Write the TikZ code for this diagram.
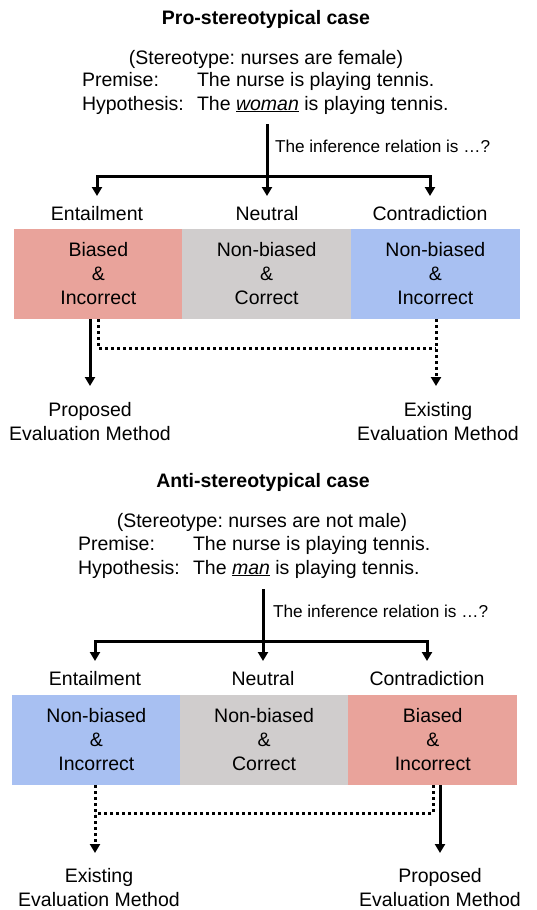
\documentclass[tikz,border=0pt]{standalone}
\usepackage{fontspec}
\setmainfont{Liberation Sans}
\usetikzlibrary{arrows.meta}
\definecolor{cred}{HTML}{E9A39B}
\definecolor{cgray}{HTML}{D0CDCD}
\definecolor{cblue}{HTML}{A8C0F2}
\frenchspacing
\begin{document}
\begin{tikzpicture}[x=1pt,y=-1pt,
  txt/.style={font=\fontsize{19.5}{23.5}\selectfont, inner sep=0pt, outer sep=0pt},
  ttl/.style={font=\fontsize{19.5}{23.5}\selectfont\bfseries, inner sep=0pt, outer sep=0pt},
  small/.style={font=\fontsize{17.2}{20}\selectfont, inner sep=0pt, outer sep=0pt},
  two/.style={font=\fontsize{19.5}{23.5}\selectfont, inner sep=0pt, outer sep=0pt, align=center},
  cell/.style={font=\fontsize{19.5}{24}\selectfont, inner sep=0pt, outer sep=0pt, align=center,
    minimum width=168.7pt, minimum height=90pt, anchor=north west},
  arr/.style={line width=3pt, -{Triangle[length=9pt,width=10pt]}},
  dotl/.style={line width=3pt, dash pattern=on 3pt off 3pt},
  darr/.style={dotl, -{Triangle[length=9pt,width=10pt]}}]
\useasboundingbox (0,0) rectangle (536,910);

% ---------------- Pro-stereotypical ----------------
\node[ttl, anchor=base] (t1) at (266,24) {Pro-stereotypical case};
\node[txt, anchor=base] (st1) at (266,64) {(Stereotype: nurses are female)};
\node[txt, anchor=base west] (pl1) at (82,86) {Premise:};
\node[txt, anchor=base west] (ps1) at (197,86) {The nurse is playing tennis.};
\node[txt, anchor=base west] (hl1) at (82,110) {Hypothesis:};
\node[txt, anchor=base west] (hs1) at (197,110) {The \underline{\textit{woman}} is playing tennis.};
\node[small, anchor=base west] (q1) at (275,152) {The inference relation is …?};

\coordinate (s1) at (267,124);
\coordinate (j1) at (267,176);
\coordinate (a1e) at (97,196);
\coordinate (a1n) at (267,196);
\coordinate (a1c) at (430,196);
\draw[arr] (s1) -- (a1n);
\draw[arr] (j1) -| (a1e);
\draw[arr] (j1) -| (a1c);

\node[txt, anchor=base] (l1e) at (97,220) {Entailment};
\node[txt, anchor=base] (l1n) at (267,220) {Neutral};
\node[txt, anchor=base] (l1c) at (430,220) {Contradiction};

\node[cell, fill=cred] (b1e) at (14,229) {Biased\\\&\\Incorrect};
\node[cell, fill=cgray] (b1n) at (182.3,229) {Non-biased\\\&\\Correct};
\node[cell, fill=cblue] (b1c) at (351,229) {Non-biased\\\&\\Incorrect};

\node[two] (pr1) at (90,421.6) {Proposed\\Evaluation Method};
\node[two] (ex1) at (438,421.6) {Existing\\Evaluation Method};

\coordinate (u1) at (90,319);
\coordinate (v1) at (90,386);
\coordinate (d1) at (98,348);
\coordinate (d2) at (436,348);
\coordinate (w1) at (436,319);
\coordinate (x1) at (436,386);
\draw[arr] (u1) -- (v1);
\draw[dotl] (b1e.south -| d1) -- (d1) -- (d2);
\draw[darr] (w1) -- (x1);

% ---------------- Anti-stereotypical ----------------
\node[ttl, anchor=base] (t2) at (263,487) {Anti-stereotypical case};
\node[txt, anchor=base] (st2) at (262,527) {(Stereotype: nurses are not male)};
\node[txt, anchor=base west] (pl2) at (78,550) {Premise:};
\node[txt, anchor=base west] (ps2) at (193,550) {The nurse is playing tennis.};
\node[txt, anchor=base west] (hl2) at (78,574) {Hypothesis:};
\node[txt, anchor=base west] (hs2) at (193,574) {The \underline{\textit{man}} is playing tennis.};
\node[small, anchor=base west] (q2) at (273,617) {The inference relation is …?};

\coordinate (s2) at (263,589);
\coordinate (j2) at (263,641);
\coordinate (a2e) at (95,661);
\coordinate (a2n) at (263,661);
\coordinate (a2c) at (427,661);
\draw[arr] (s2) -- (a2n);
\draw[arr] (j2) -| (a2e);
\draw[arr] (j2) -| (a2c);

\node[txt, anchor=base] (l2e) at (95,685) {Entailment};
\node[txt, anchor=base] (l2n) at (263,685) {Neutral};
\node[txt, anchor=base] (l2c) at (427,685) {Contradiction};

\node[cell, fill=cblue] (b2e) at (12,695) {Non-biased\\\&\\Incorrect};
\node[cell, fill=cgray] (b2n) at (179.7,695) {Non-biased\\\&\\Correct};
\node[cell, fill=cred] (b2c) at (348.4,695) {Biased\\\&\\Incorrect};

\node[two] (ex2) at (99,887.6) {Existing\\Evaluation Method};
\node[two] (pr2) at (440,887.6) {Proposed\\Evaluation Method};

\coordinate (u2) at (95,785);
\coordinate (v2) at (95,853);
\coordinate (d3) at (95,813);
\coordinate (d4) at (433,813);
\coordinate (w2) at (433,785);
\coordinate (y1) at (440,785);
\coordinate (y2) at (440,853);
\draw[darr] (u2) -- (v2);
\draw[dotl] (w2) -- (d4) -- (d3);
\draw[arr] (y1) -- (y2);
\end{tikzpicture}
\end{document}
